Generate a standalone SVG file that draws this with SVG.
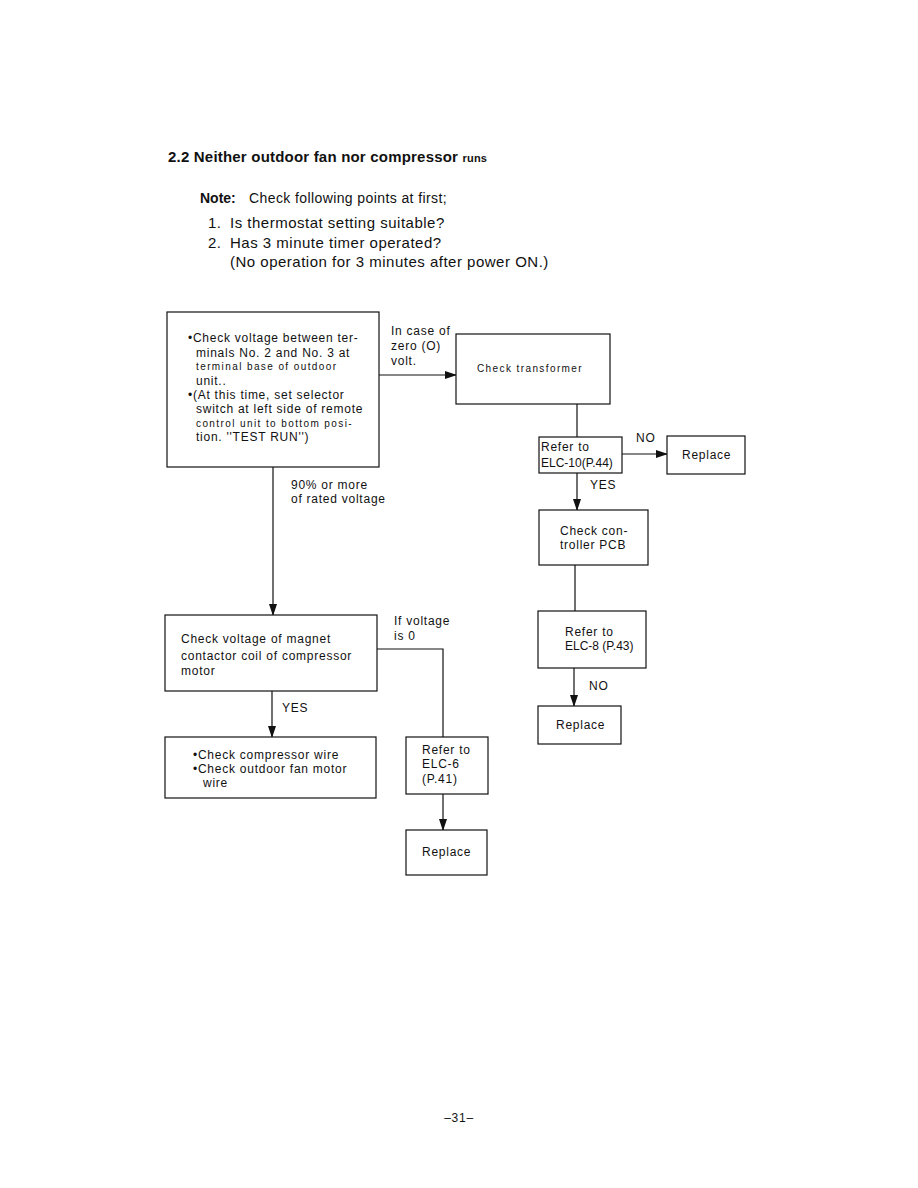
<svg xmlns="http://www.w3.org/2000/svg" width="918" height="1188" viewBox="0 0 918 1188">
<style>
text{font-family:"Liberation Sans",Arial,sans-serif;fill:#111}
.t{font-size:12px;letter-spacing:0.75px}
.s{font-size:10px;letter-spacing:1.4px}
.h{font-size:15px;letter-spacing:0.5px}
.box{fill:#fff;stroke:#111;stroke-width:1.2}
.ln{fill:none;stroke:#111;stroke-width:1.2}
</style>
<defs>
<marker id="ah" markerWidth="12" markerHeight="8" refX="11" refY="4" orient="auto" markerUnits="userSpaceOnUse">
<path d="M0,0 L12,4 L0,8 Z" fill="#111"/>
</marker>
</defs>
<rect width="918" height="1188" fill="#fff"/>
<g id="header">
<text x="168" y="162" style="font-size:15px;font-weight:bold;letter-spacing:0.2px">2.2  Neither outdoor fan nor compressor <tspan style="font-size:11px">runs</tspan></text>
<text x="200" y="203" style="font-size:14px;font-weight:bold">Note:</text>
<text x="249" y="203" style="font-size:14px;letter-spacing:0.4px">Check following points at first;</text>
<text x="208" y="228" class="h">1.</text>
<text x="230" y="228" class="h">Is thermostat setting suitable?</text>
<text x="208" y="248" class="h">2.</text>
<text x="230" y="248" class="h">Has 3 minute timer operated?</text>
<text x="230" y="267" class="h">(No operation for 3 minutes after power ON.)</text>
</g>
<g id="connectors">
<line class="ln" x1="379" y1="375" x2="456" y2="375" marker-end="url(#ah)"/>
<line class="ln" x1="577" y1="404" x2="577" y2="437"/>
<line class="ln" x1="622" y1="454" x2="667" y2="454" marker-end="url(#ah)"/>
<line class="ln" x1="577" y1="473" x2="577" y2="510" marker-end="url(#ah)"/>
<line class="ln" x1="575" y1="565" x2="575" y2="611"/>
<line class="ln" x1="574" y1="668" x2="574" y2="706" marker-end="url(#ah)"/>
<line class="ln" x1="273" y1="467" x2="273" y2="615" marker-end="url(#ah)"/>
<polyline class="ln" points="377,649 443,649 443,737"/>
<line class="ln" x1="272" y1="691" x2="272" y2="737" marker-end="url(#ah)"/>
<line class="ln" x1="443" y1="794" x2="443" y2="830" marker-end="url(#ah)"/>
<text x="391" y="335" class="t">In case of</text>
<text x="391" y="350" class="t">zero (O)</text>
<text x="391" y="365" class="t">volt.</text>
<text x="636" y="442" class="t">NO</text>
<text x="590" y="489" class="t">YES</text>
<text x="589" y="690" class="t">NO</text>
<text x="291" y="489" class="t">90% or more</text>
<text x="291" y="503" class="t">of rated voltage</text>
<text x="394" y="625" class="t">If voltage</text>
<text x="394" y="640" class="t">is 0</text>
<text x="282" y="712" class="t">YES</text>
</g>
<g id="n1">
<rect class="box" x="167" y="312" width="212" height="155"/>
<text x="188" y="342" class="t">•Check voltage between ter-</text>
<text x="196" y="357" class="t">minals No. 2 and No. 3 at</text>
<text x="196" y="370" class="s">terminal base of outdoor</text>
<text x="196" y="385" class="t">unit..</text>
<text x="188" y="399" class="t">•(At this time, set selector</text>
<text x="196" y="413" class="t">switch at left side of remote</text>
<text x="196" y="427" class="s">control unit to bottom posi-</text>
<text x="196" y="441" class="t">tion. ''TEST RUN'')</text>
</g>
<g id="n2">
<rect class="box" x="456" y="334" width="154" height="70"/>
<text x="477" y="372" class="s">Check transformer</text>
</g>
<g id="n3">
<rect class="box" x="539" y="437" width="83" height="36"/>
<text x="541" y="451" class="t">Refer to</text>
<text x="541" y="467" style="font-size:12px">ELC-10(P.44)</text>
</g>
<g id="n4">
<rect class="box" x="667" y="436" width="78" height="38"/>
<text x="682" y="459" class="t">Replace</text>
</g>
<g id="n5">
<rect class="box" x="539" y="510" width="109" height="55"/>
<text x="560" y="535" class="t">Check con-</text>
<text x="560" y="549" class="t">troller PCB</text>
</g>
<g id="n6">
<rect class="box" x="538" y="611" width="108" height="57"/>
<text x="565" y="636" class="t">Refer to</text>
<text x="565" y="650" style="font-size:12px">ELC-8 (P.43)</text>
</g>
<g id="n7">
<rect class="box" x="538" y="706" width="83" height="38"/>
<text x="556" y="729" class="t">Replace</text>
</g>
<g id="n8">
<rect class="box" x="165" y="615" width="212" height="76"/>
<text x="181" y="643" class="t">Check voltage of magnet</text>
<text x="181" y="660" class="t">contactor coil of compressor</text>
<text x="181" y="675" class="t">motor</text>
</g>
<g id="n9">
<rect class="box" x="165" y="737" width="211" height="61"/>
<text x="193" y="759" class="t">•Check compressor wire</text>
<text x="193" y="773" class="t">•Check outdoor fan motor</text>
<text x="203" y="787" class="t">wire</text>
</g>
<g id="n10">
<rect class="box" x="406" y="737" width="82" height="57"/>
<text x="422" y="754" class="t">Refer to</text>
<text x="422" y="768" class="t">ELC-6</text>
<text x="422" y="783" class="t">(P.41)</text>
</g>
<g id="n11">
<rect class="box" x="406" y="830" width="81" height="45"/>
<text x="422" y="856" class="t">Replace</text>
</g>
<text x="459" y="1122" class="t" text-anchor="middle">–31–</text>
</svg>
